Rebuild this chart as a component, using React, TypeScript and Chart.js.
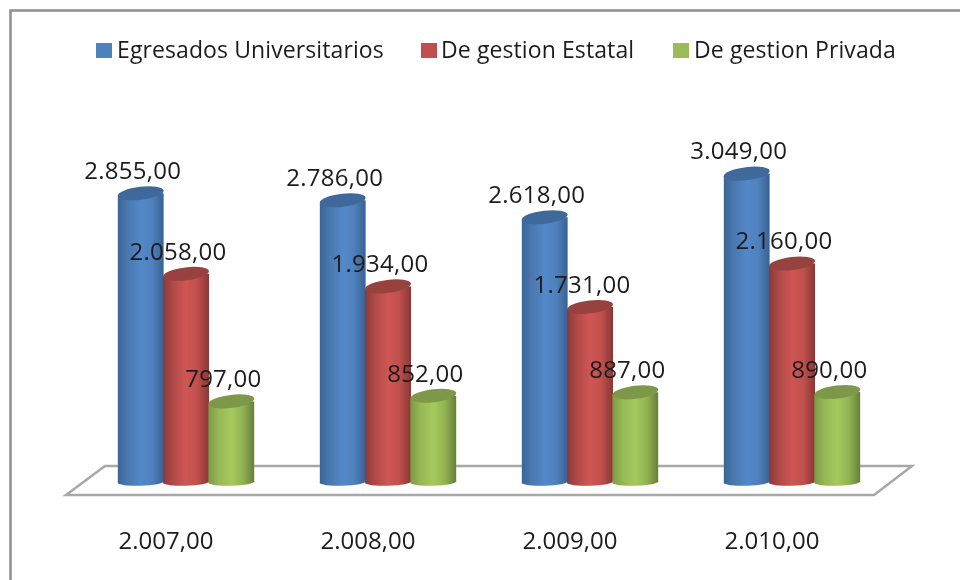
import React, { useEffect, useRef } from "react";
import { Chart, registerables } from "chart.js";

Chart.register(...registerables);

const categories = ["2.007,00", "2.008,00", "2.009,00", "2.010,00"];
const egresados = [2855, 2786, 2618, 3049];
const estatal = [2058, 1934, 1731, 2160];
const privada = [797, 852, 887, 890];
const seriesNames = ["Egresados Universitarios", "De gestion Estatal", "De gestion Privada"];
const legendColors = ["#4f81bd", "#c0504d", "#9bbb59"];
const capColors = ["#40699b", "#97423f", "#7c9848"];
const sideStops = [
  ["#3b6597", "#4a78b0", "#5488c8", "#4f81bd", "#3a6294"],
  ["#8e3a38", "#b04a48", "#cf5654", "#c0504d", "#8b3836"],
  ["#7f9c46", "#96b856", "#a5c95e", "#93b352", "#66803a"],
];

const FONT = '"Open Sans", sans-serif';
const TEXT = "#1c1c1c";
const CATEGORY_PCT = 0.673;
const TILT = -0.12;

const fmt = (v: number) => {
  const s = v.toFixed(2).replace(".", ",");
  return s.replace(/^(\d)(\d{3})/, "$1.$2");
};

function sideGradient(chart: any, datasetIndex: number, dataIndex: number) {
  const xs = chart.scales.x;
  if (!xs) return legendColors[datasetIndex];
  const step = xs.getPixelForValue(1) - xs.getPixelForValue(0);
  const w = (step * CATEGORY_PCT) / 3;
  const c = xs.getPixelForValue(dataIndex) + (datasetIndex - 1) * w;
  if (!Number.isFinite(c) || !Number.isFinite(w)) return legendColors[datasetIndex];
  const g = chart.ctx.createLinearGradient(c - w / 2, 0, c + w / 2, 0);
  const stops = sideStops[datasetIndex];
  [0, 0.22, 0.5, 0.75, 1].forEach((p, i) => g.addColorStop(p, stops[i]));
  return g;
}

const frame = {
  id: "frame",
  beforeDraw(chart: any) {
    const { ctx, width, height } = chart;
    ctx.save();
    ctx.fillStyle = "#ffffff";
    ctx.fillRect(0, 0, width, height);
    ctx.strokeStyle = "#8e8e8e";
    ctx.lineWidth = 2.5;
    ctx.beginPath();
    ctx.moveTo(10.5, height);
    ctx.lineTo(10.5, 10.5);
    ctx.lineTo(width, 10.5);
    ctx.stroke();
    ctx.restore();
  },
};

const scene = {
  id: "scene",
  beforeDatasetsDraw(chart: any) {
    const { ctx, chartArea: a } = chart;
    ctx.save();
    ctx.strokeStyle = "#a8a8a8";
    ctx.lineWidth = 2.5;
    ctx.fillStyle = "#ffffff";
    ctx.beginPath();
    ctx.moveTo(a.left - 19, a.bottom + 13);
    ctx.lineTo(a.left + 20, a.bottom - 16);
    ctx.lineTo(a.right + 19, a.bottom - 16);
    ctx.lineTo(a.right - 19, a.bottom + 13);
    ctx.closePath();
    ctx.fill();
    ctx.stroke();
    ctx.restore();

    // left-hand series first, so that each cylinder overlaps the one to its left
    chart.data.datasets.forEach((_: any, i: number) => {
      const meta = chart.getDatasetMeta(i);
      const els = meta.data;
      ctx.save();
      els.forEach((el: any, j: number) => {
        ctx.fillStyle = sideGradient(chart, i, j);
        ctx.beginPath();
        ctx.ellipse(el.x, el.base, el.width / 2, 3.8, -0.03, 0, Math.PI * 2);
        ctx.fill();
      });
      ctx.beginPath();
      els.forEach((el: any) => {
        const hw = el.width / 2;
        const d = hw * Math.sin(-TILT);
        ctx.moveTo(el.x - hw, el.y + d);
        ctx.lineTo(el.x + hw, el.y - d);
        ctx.lineTo(el.x + hw, el.base);
        ctx.lineTo(el.x - hw, el.base);
        ctx.closePath();
      });
      ctx.clip();
      meta.controller.draw();
      ctx.restore();
      ctx.save();
      els.forEach((el: any) => {
        ctx.fillStyle = capColors[i];
        ctx.beginPath();
        ctx.ellipse(el.x, el.y, el.width / 2, 6.5, TILT, 0, Math.PI * 2);
        ctx.fill();
      });
      ctx.restore();
    });
    return false;
  },
};

const valueLabels = {
  id: "valueLabels",
  afterDraw(chart: any) {
    const { ctx } = chart;
    ctx.save();
    ctx.font = `24px ${FONT}`;
    ctx.letterSpacing = "0.25px";
    ctx.fillStyle = TEXT;
    ctx.textAlign = "center";
    ctx.textBaseline = "middle";
    chart.data.datasets.forEach((ds: any, i: number) => {
      chart.getDatasetMeta(i).data.forEach((el: any, j: number) => {
        ctx.fillText(fmt(ds.data[j]), el.x - 8, el.y - 21);
      });
    });
    ctx.restore();
  },
};

const legendRow = {
  id: "legendRow",
  afterDraw(chart: any) {
    const { ctx } = chart;
    const boxX = [96, 421, 673];
    const textX = [117, 441, 694];
    ctx.save();
    ctx.font = `23px ${FONT}`;
    ctx.letterSpacing = "0.1px";
    ctx.textAlign = "left";
    ctx.textBaseline = "middle";
    seriesNames.forEach((name, i) => {
      ctx.fillStyle = legendColors[i];
      ctx.fillRect(boxX[i], 43, 16, 15);
      ctx.fillStyle = TEXT;
      ctx.fillText(name, textX[i], 51);
    });
    ctx.restore();
  },
};

export default function App() {
  const ref = useRef<HTMLCanvasElement | null>(null);
  useEffect(() => {
    const make = (label: string, data: number[], i: number) => ({
      label,
      data,
      backgroundColor: (c: any) =>
        c.dataIndex === undefined ? legendColors[i] : sideGradient(c.chart, i, c.dataIndex),
      borderWidth: 0,
      categoryPercentage: CATEGORY_PCT,
      barPercentage: 1.02,
    });
    const chart = new Chart(ref.current as HTMLCanvasElement, {
      type: "bar",
      data: {
        labels: categories,
        datasets: [
          make(seriesNames[0], egresados, 0),
          make(seriesNames[1], estatal, 1),
          make(seriesNames[2], privada, 2),
        ],
      },
      options: {
        responsive: false,
        animation: false,
        layout: { padding: { left: 85, right: 67, top: 128, bottom: 0 } },
        plugins: { legend: { display: false }, tooltip: { enabled: false }, title: { display: false } },
        scales: {
          x: {
            grid: { display: false },
            border: { display: false },
            afterFit: (s: any) => {
              s.height = 98;
            },
            ticks: {
              font: { family: FONT, size: 24 },
              color: TEXT,
              padding: 38,
              labelOffset: -20,
              maxRotation: 0,
              autoSkip: false,
            },
          },
          y: { display: false, min: 0, max: 3500 },
        },
      } as any,
      plugins: [frame, scene, valueLabels, legendRow],
    });
    return () => chart.destroy();
  }, []);
  return (
    <div style={{ position: "absolute", left: 0, top: 0, width: 960, height: 580 }}>
      <canvas ref={ref} width={960} height={580} style={{ display: "block", filter: "blur(0.5px)" }} />
    </div>
  );
}
